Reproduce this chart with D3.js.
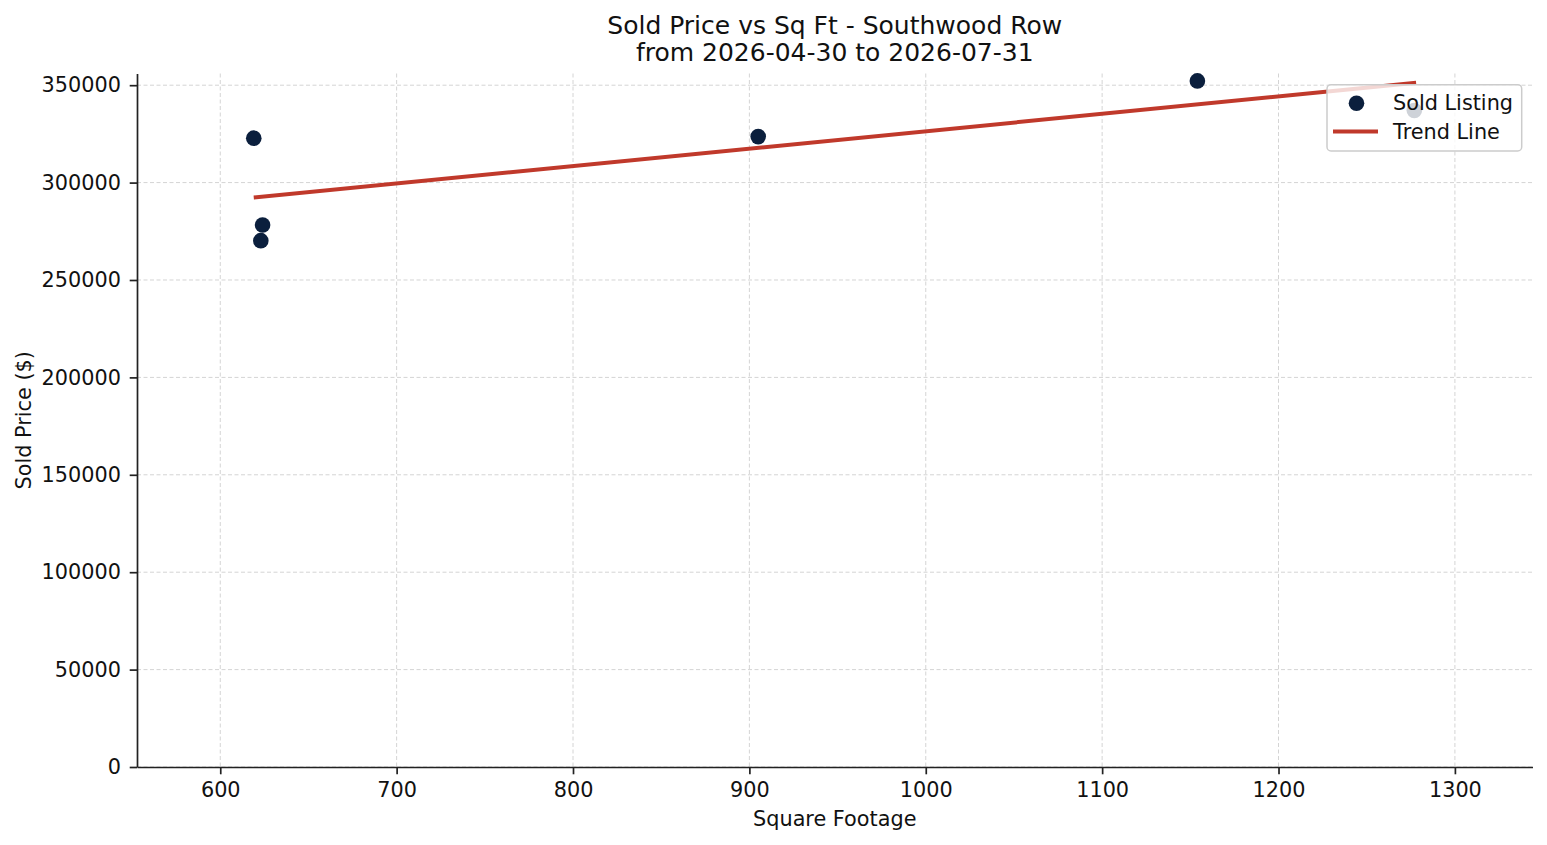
<!DOCTYPE html>
<html>
<head>
<meta charset="utf-8">
<script src="https://cdn.jsdelivr.net/npm/d3@7"></script>
<style>
  body { margin: 0; background: #fff; }
  svg, svg text { font-family: "DejaVu Sans", sans-serif; }
  .axis path, .axis line { stroke: #222; }
  .axis text { fill: #111; font-size: 20.8px; font-family: "DejaVu Sans", sans-serif; }
</style>
</head>
<body>
<div class="chart"></div>
<script>
// data
const sqft = [619, 624, 623, 905, 1154, 1277];
const soldPrice = [322800, 278200, 270200, 323600, 352200, 337000];
const trendSqft = [619, 1278];
const trendPrice = [292300, 351200];
const xTicks = [600, 700, 800, 900, 1000, 1100, 1200, 1300];
const yTicks = [0, 50000, 100000, 150000, 200000, 250000, 300000, 350000];
const titleLines = ["Sold Price vs Sq Ft - Southwood Row", "from 2026-04-30 to 2026-07-31"];

// dimensions
const W = 1547, H = 845;
const margin = { top: 73.5, right: 14.5, bottom: 78, left: 137 };
const width = W - margin.left - margin.right;
const height = H - margin.top - margin.bottom;

const pointColour = "#0b1f3d";
const lineColour = "#c0392b";
const gridColour = "#d4d4d4";
const fontSize = "20.8px";

const svg = d3.select(".chart")
    .append("svg")
    .attr("width", W)
    .attr("height", H);

const g = svg.append("g")
    .attr("transform", "translate(" + margin.left + "," + margin.top + ")");

const x = d3.scaleLinear().domain([552.8, 1344]).range([0, width]);
const y = d3.scaleLinear().domain([0, 356000]).range([height, 0]);

// grid
g.append("g")
    .selectAll("line.vgrid")
    .data(xTicks)
    .enter().append("line")
    .attr("x1", d => x(d)).attr("x2", d => x(d))
    .attr("y1", 0).attr("y2", height)
    .attr("stroke", gridColour)
    .attr("stroke-width", 1)
    .attr("stroke-dasharray", "4,2.5");

g.append("g")
    .selectAll("line.hgrid")
    .data(yTicks)
    .enter().append("line")
    .attr("x1", 0).attr("x2", width)
    .attr("y1", d => y(d)).attr("y2", d => y(d))
    .attr("stroke", gridColour)
    .attr("stroke-width", 1)
    .attr("stroke-dasharray", "4,2.5");

// axes (only left and bottom spines)
g.append("g")
    .attr("class", "axis")
    .attr("transform", "translate(0," + height + ")")
    .call(d3.axisBottom(x).tickValues(xTicks).tickSize(7.3).tickPadding(8.3).tickSizeOuter(0).tickFormat(d3.format("d")))
    .call(a => a.selectAll("path, line").attr("stroke-width", 1.7));

g.append("g")
    .attr("class", "axis")
    .call(d3.axisLeft(y).tickValues(yTicks).tickSize(7.3).tickPadding(8.7).tickSizeOuter(0).tickFormat(d3.format("d")))
    .call(a => a.selectAll("path, line").attr("stroke-width", 1.7));

// trend line
g.append("path")
    .datum(d3.zip(trendSqft, trendPrice))
    .attr("fill", "none")
    .attr("stroke", lineColour)
    .attr("stroke-width", 4)
    .attr("d", d3.line().x(d => x(d[0])).y(d => y(d[1])));

// points
g.selectAll("circle.pt")
    .data(d3.zip(sqft, soldPrice))
    .enter().append("circle")
    .attr("class", "pt")
    .attr("cx", d => x(d[0]))
    .attr("cy", d => y(d[1]))
    .attr("r", 7.8)
    .attr("fill", pointColour);

// title
svg.append("text")
    .attr("x", margin.left + width / 2)
    .attr("y", 33.5)
    .attr("text-anchor", "middle")
    .style("font-size", "25px")
    .style("fill", "#111")
    .selectAll("tspan")
    .data(titleLines)
    .enter().append("tspan")
    .attr("x", margin.left + width / 2)
    .attr("dy", (d, i) => i === 0 ? 0 : 27.5)
    .text(d => d);

// axis labels
svg.append("text")
    .attr("x", margin.left + width / 2)
    .attr("y", 826)
    .attr("text-anchor", "middle")
    .style("font-size", fontSize)
    .style("fill", "#111")
    .text("Square Footage");

svg.append("text")
    .attr("transform", "translate(31," + (margin.top + height / 2) + ") rotate(-90)")
    .attr("text-anchor", "middle")
    .style("font-size", fontSize)
    .style("fill", "#111")
    .text("Sold Price ($)");

// legend
const legend = svg.append("g");
legend.append("rect")
    .attr("x", 1327).attr("y", 84.7)
    .attr("width", 194.7).attr("height", 66.3)
    .attr("rx", 4)
    .attr("fill", "#fff")
    .attr("fill-opacity", 0.8)
    .attr("stroke", "#cccccc")
    .attr("stroke-width", 1.5);

legend.append("circle")
    .attr("cx", 1356.5).attr("cy", 103.3)
    .attr("r", 7.8)
    .attr("fill", pointColour);

legend.append("line")
    .attr("x1", 1333).attr("x2", 1378)
    .attr("y1", 131.5).attr("y2", 131.5)
    .attr("stroke", lineColour)
    .attr("stroke-width", 4);

legend.append("text")
    .attr("x", 1393).attr("y", 110)
    .style("font-size", fontSize)
    .style("fill", "#111")
    .text("Sold Listing");

legend.append("text")
    .attr("x", 1393).attr("y", 139)
    .style("font-size", fontSize)
    .style("fill", "#111")
    .text("Trend Line");
</script>
</body>
</html>
